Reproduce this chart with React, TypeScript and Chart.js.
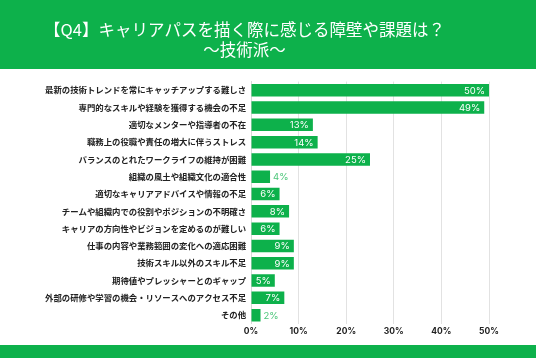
import React, { useEffect, useRef } from "react";
import { Chart, registerables } from "chart.js";

Chart.register(...registerables);

const titleLines = ["【Q4】キャリアパスを描く際に感じる障壁や課題は？", "〜技術派〜"];

const categories = [
  "最新の技術トレンドを常にキャッチアップする難しさ",
  "専門的なスキルや経験を獲得する機会の不足",
  "適切なメンターや指導者の不在",
  "職務上の役職や責任の増大に伴うストレス",
  "バランスのとれたワークライフの維持が困難",
  "組織の風土や組織文化の適合性",
  "適切なキャリアアドバイスや情報の不足",
  "チームや組織内での役割やポジションの不明確さ",
  "キャリアの方向性やビジョンを定めるのが難しい",
  "仕事の内容や業務範囲の変化への適応困難",
  "技術スキル以外のスキル不足",
  "期待値やプレッシャーとのギャップ",
  "外部の研修や学習の機会・リソースへのアクセス不足",
  "その他",
];

const values = [50, 49, 13, 14, 25, 4, 6, 8, 6, 9, 9, 5, 7, 2];

const xTicks = [0, 10, 20, 30, 40, 50];

const GREEN = "#0db14b";

const bandPlugin = {
  id: "bands",
  beforeDraw(chart: any) {
    const { ctx, width, height } = chart;
    ctx.save();
    ctx.fillStyle = "#ffffff";
    ctx.fillRect(0, 0, width, height);
    ctx.fillStyle = GREEN;
    ctx.fillRect(0, 0, width, 69);
    ctx.fillRect(0, 345, width, height - 345);
    ctx.restore();
  },
};

const valueLabelPlugin = {
  id: "valueLabels",
  afterDatasetsDraw(chart: any) {
    const { ctx } = chart;
    const meta = chart.getDatasetMeta(0);
    ctx.save();
    ctx.font = "9.5px Inter, 'Noto Sans', sans-serif";
    ctx.textBaseline = "middle";
    meta.data.forEach((bar: any, i: number) => {
      const v = values[i];
      const text = v + "%";
      const w = bar.x - bar.base;
      const tw = ctx.measureText(text).width;
      if (w > tw + 6) {
        ctx.fillStyle = "#ffffff";
        ctx.textAlign = "right";
        ctx.fillText(text, bar.x - 4, bar.y + 0.5);
      } else {
        ctx.fillStyle = "#4cc67a";
        ctx.textAlign = "left";
        ctx.fillText(text, bar.x + 3, bar.y + 0.5);
      }
    });
    ctx.restore();
  },
};

export default function App() {
  const ref = useRef<HTMLCanvasElement | null>(null);
  useEffect(() => {
    if (!ref.current) return;
    const chart = new Chart(ref.current, {
      type: "bar",
      data: {
        labels: categories,
        datasets: [
          {
            data: values,
            backgroundColor: GREEN,
            borderWidth: 0,
            barPercentage: 0.72,
            categoryPercentage: 1,
          },
        ],
      },
      plugins: [bandPlugin, valueLabelPlugin],
      options: {
        indexAxis: "y",
        animation: false,
        responsive: false,
        maintainAspectRatio: false,
        layout: { padding: { left: 0, right: 47, top: 20, bottom: 18 } },
        plugins: {
          legend: { display: false },
          tooltip: { enabled: false },
          title: {
            display: true,
            text: titleLines,
            color: "#ffffff",
            font: { family: "'Noto Sans CJK JP', sans-serif", size: 16.5, weight: "normal", lineHeight: 1.2 },
            padding: { top: 0, bottom: 22 },
          },
        },
        scales: {
          x: {
            min: 0,
            max: 50,
            afterBuildTicks(scale: any) {
              scale.ticks = xTicks.map((v) => ({ value: v }));
            },
            ticks: {
              callback: (v: any) => v + "%",
              color: "#222",
              font: { family: "Inter, 'Noto Sans', sans-serif", size: 8.5, weight: "bold" },
              padding: 3,
            },
            grid: { color: "#e2e2e2", drawTicks: false },
            border: { display: false },
          },
          y: {
            afterFit(scale: any) {
              scale.width = 251;
            },
            ticks: {
              color: "#222",
              font: { family: "'Noto Sans CJK JP', sans-serif", size: 8.4, weight: "bold" },
              padding: 5,
            },
            grid: { display: false, drawTicks: false },
            border: { display: true, color: "#d8d8d8" },
          },
        },
      },
    });
    return () => chart.destroy();
  }, []);
  return (
    <div style={{ position: "absolute", left: 0, top: 0, width: 536, height: 358 }}>
      <canvas ref={ref} width={536} height={358} style={{ display: "block", width: 536, height: 358 }} />
    </div>
  );
}
